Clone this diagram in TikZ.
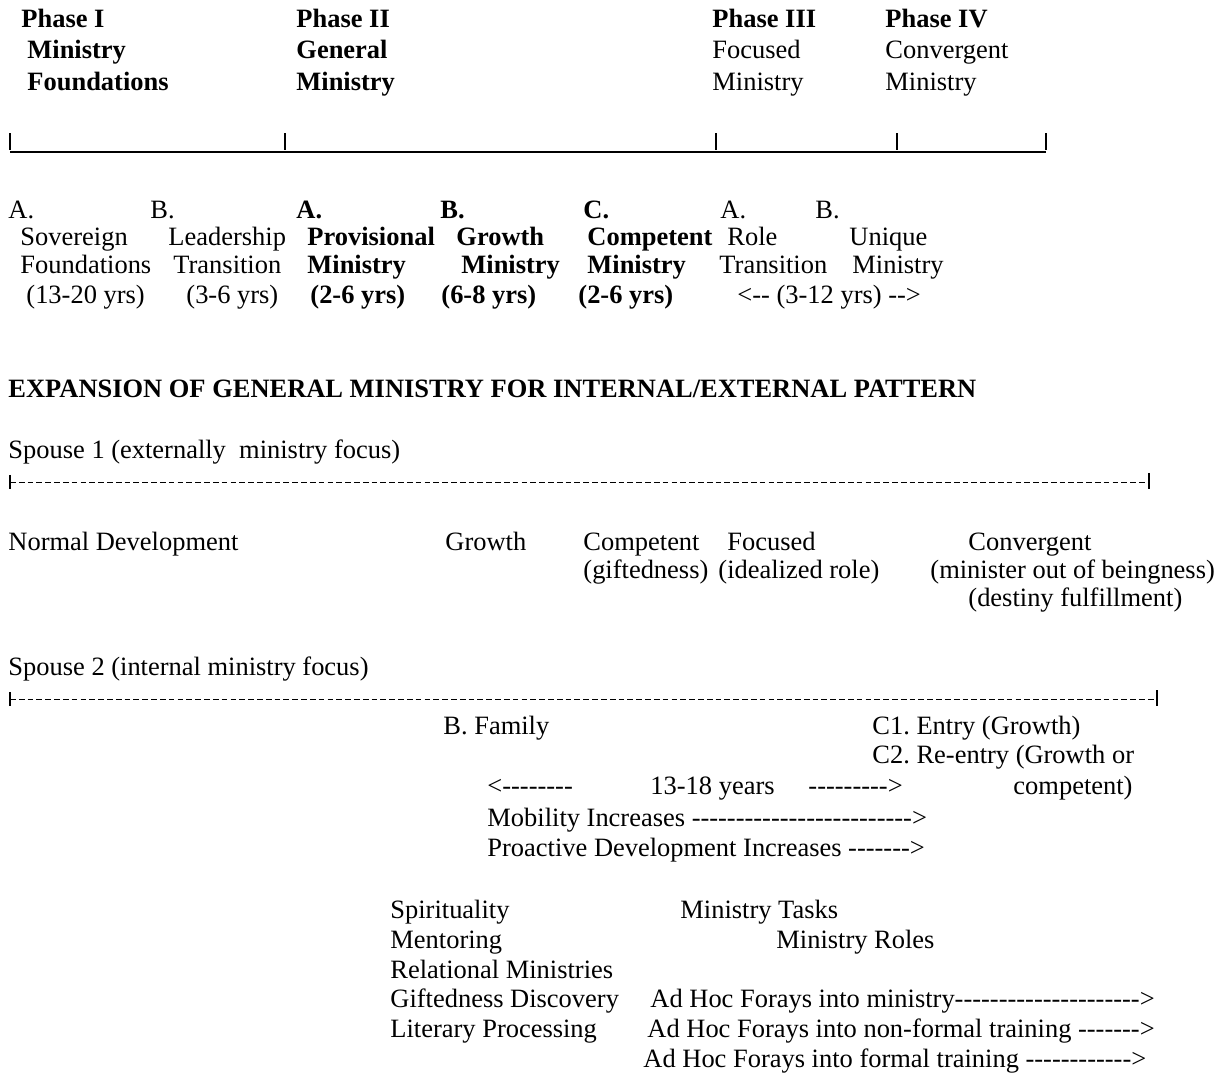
\documentclass[tikz,border=0pt]{standalone}
\usepackage{fontspec}
\setmainfont{Liberation Serif}[Ligatures=TeXOff]
\usetikzlibrary{positioning}
\frenchspacing
\tikzstyle{txt}=[anchor=base west, inner sep=0pt, font=\fontsize{12}{14}\selectfont]
\tikzstyle{btxt}=[txt, font=\fontsize{12}{14}\selectfont\bfseries]
\tikzstyle{rule}=[line width=0.9pt]
\tikzstyle{tick}=[line width=1.3pt]
\tikzstyle{dashrule}=[line width=0.45pt, dash pattern=on 2.6pt off 1.4pt]

\begin{document}
\begin{tikzpicture}[x=0.4535pt,y=-0.4535pt]
\useasboundingbox (0,0) rectangle (1226,1078);

\node (p1) [btxt] at (21,28) {Phase I};
\node (p1a) [btxt] at (27,59) {Ministry};
\node (p1b) [btxt] at (27,91) {Foundations};
\node (p2) [btxt] at (296,28) {Phase II};
\node (p2a) [btxt] at (296,59) {General};
\node (p2b) [btxt] at (296,91) {Ministry};
\node (p3) [btxt] at (712,28) {Phase III};
\node (p3a) [txt] at (712,59) {Focused};
\node (p3b) [txt] at (712,91) {Ministry};
\node (p4) [btxt] at (885,28) {Phase IV};
\node (p4a) [txt] at (885,59) {Convergent};
\node (p4b) [txt] at (885,91) {Ministry};

\coordinate (t1) at (10,152);
\coordinate (t2) at (285,152);
\coordinate (t3) at (716,152);
\coordinate (t4) at (897,152);
\coordinate (t5) at (1046,152);
\draw[rule] (t1) -- (t5);
\foreach \t in {t1,t2,t3,t4,t5}
  \draw[tick] (\t) ++(0,-2) -- ++(0,-17);

\node (sa) [txt] at (8,219) {A.};
\node (sb) [txt] at (150,219) {B.};
\node (ga) [btxt] at (296,219) {A.};
\node (gb) [btxt] at (440,219) {B.};
\node (gc) [btxt] at (583,219) {C.};
\node (fa) [txt] at (720,219) {A.};
\node (fb) [txt] at (815,219) {B.};

\node (sa1) [txt] at (20,246) {Sovereign};
\node (sb1) [txt] at (168,246) {Leadership};
\node (ga1) [btxt] at (307,246) {Provisional};
\node (gb1) [btxt] at (456,246) {Growth};
\node (gc1) [btxt] at (587,246) {Competent};
\node (fa1) [txt] at (727,246) {Role};
\node (fb1) [txt] at (849,246) {Unique};

\node (sa2) [txt] at (20,274) {Foundations};
\node (sb2) [txt] at (173,274) {Transition};
\node (ga2) [btxt] at (307,274) {Ministry};
\node (gb2) [btxt] at (461,274) {Ministry};
\node (gc2) [btxt] at (587,274) {Ministry};
\node (fa2) [txt] at (719,274) {Transition};
\node (fb2) [txt] at (852,274) {Ministry};

\node (sa3) [txt] at (26,304) {(13-20 yrs)};
\node (sb3) [txt] at (186,304) {(3-6 yrs)};
\node (ga3) [btxt] at (310,304) {(2-6 yrs)};
\node (gb3) [btxt] at (441,304) {(6-8 yrs)};
\node (gc3) [btxt] at (578,304) {(2-6 yrs)};
\node (f3) [txt] at (737,304) {<-- (3-12 yrs) -->};

\node (head) [btxt] at (8,398) {EXPANSION OF GENERAL MINISTRY FOR INTERNAL/EXTERNAL PATTERN};

\node (sp1) [txt] at (8,459) {Spouse 1 (externally~ ministry focus)};
\coordinate (l1s) at (10,482);
\coordinate (l1e) at (1149,482);
\draw[dashrule] (l1s) -- (l1e);
\draw[line width=0.5pt] (l1s) ++(0,-7) -- ++(0,14);
\draw[tick] (l1e) ++(0,-9) -- ++(0,16);

\node (nd) [txt] at (8,550) {Normal Development};
\node (e1) [txt] at (445,550) {Growth};
\node (e2) [txt] at (583,550) {Competent};
\node (e2a) [txt] at (583,578) {(giftedness)};
\node (e3) [txt] at (727,550) {Focused};
\node (e3a) [txt] at (718,578) {(idealized role)};
\node (e4) [txt] at (968,550) {Convergent};
\node (e4a) [txt] at (930,578) {(minister out of beingness)};
\node (e4b) [txt] at (968,606) {(destiny fulfillment)};

\node (sp2) [txt] at (8,675) {Spouse 2 (internal ministry focus)};
\coordinate (l2s) at (10,699);
\coordinate (l2e) at (1157,699);
\draw[dashrule] (l2s) -- (l2e);
\draw[line width=0.5pt] (l2s) ++(0,-7) -- ++(0,14);
\draw[tick] (l2e) ++(0,-9) -- ++(0,16);

\node (fam) [txt] at (443,734) {B. Family};
\node (c1) [txt] at (872,734) {C1. Entry (Growth)};
\node (c2) [txt] at (872,763) {C2. Re-entry (Growth or};
\node (yl) [txt] at (487,794) {<--------};
\node (yrs) [txt] at (650,794) {13-18 years};
\node (yr) [txt] at (808,794) {--------->};
\node (c2a) [txt] at (1013,794) {competent)};
\node (mob) [txt] at (487,826) {Mobility Increases ------------------------->};
\node (pro) [txt] at (487,856) {Proactive Development Increases ------->};

\node (spi) [txt] at (390,918) {Spirituality};
\node (mt) [txt] at (680,918) {Ministry Tasks};
\node (men) [txt] at (390,948) {Mentoring};
\node (mr) [txt] at (776,948) {Ministry Roles};
\node (rel) [txt] at (390,978) {Relational Ministries};
\node (gif) [txt] at (390,1007) {Giftedness Discovery};
\node (ah1) [txt] at (650,1007) {Ad Hoc Forays into ministry--------------------->};
\node (lit) [txt] at (390,1037) {Literary Processing};
\node (ah2) [txt] at (647,1037) {Ad Hoc Forays into non-formal training ------->};
\node (ah3) [txt] at (643,1067) {Ad Hoc Forays into formal training ------------>};

\end{tikzpicture}
\end{document}
